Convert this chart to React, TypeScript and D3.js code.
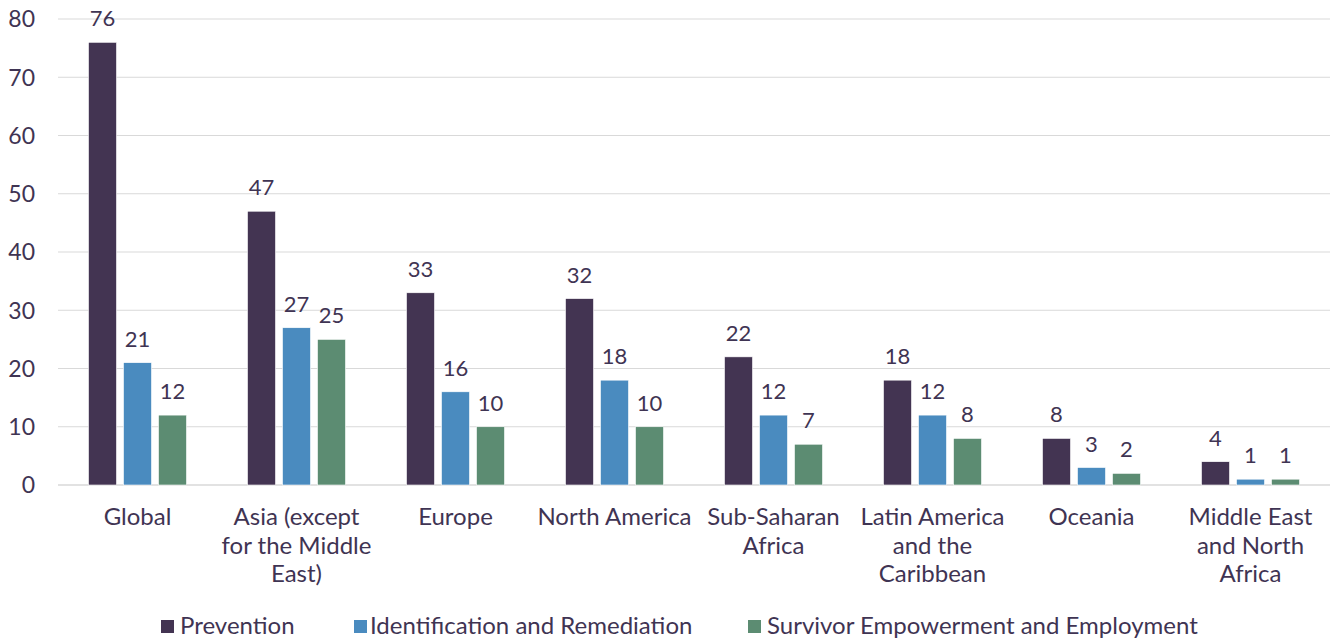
import React from "react";
import * as d3 from "d3";

const categories: string[][] = [
  ["Global"],
  ["Asia (except", "for the Middle", "East)"],
  ["Europe"],
  ["North America"],
  ["Sub-Saharan", "Africa"],
  ["Latin America", "and the", "Caribbean"],
  ["Oceania"],
  ["Middle East", "and North", "Africa"],
];
const seriesNames = ["Prevention", "Identification and Remediation", "Survivor Empowerment and Employment"];
const prevention = [76, 47, 33, 32, 22, 18, 8, 4];
const identification = [21, 27, 16, 18, 12, 12, 3, 1];
const survivor = [12, 25, 10, 10, 7, 8, 2, 1];
const yTicks = [0, 10, 20, 30, 40, 50, 60, 70, 80];
const colors = ["#433452", "#4a8bbf", "#5c8c72"];

const W = 1335, H = 643;
const textColor = "#3f3453";
const font = "Lato, 'Open Sans', sans-serif";

export default function App() {
  const series = [prevention, identification, survivor];
  const x = d3.scaleBand<number>().domain(d3.range(categories.length)).range([58, 1330]).paddingInner(0).paddingOuter(0);
  const y = d3.scaleLinear().domain([0, 80]).range([485, 19]);
  const barW = 28, step = 35;
  return (
    <svg width={W} height={H} style={{ position: "absolute", left: 0, top: 0, background: "#fff" }}>
      {yTicks.map((t) => (
        <g key={t}>
          <line x1={58} x2={1330} y1={y(t)} y2={y(t)} stroke="#d9d9d9" strokeWidth={t === 0 ? 1.5 : 1.2} />
          <text x={35} y={y(t)} dy="0.36em" textAnchor="end" fontSize={23} fill={textColor} fontFamily={font}>{t}</text>
        </g>
      ))}
      {categories.map((c, i) => {
        const cx = x(i)! + x.bandwidth() / 2;
        return (
          <g key={i}>
            {series.map((s, j) => {
              const bx = cx + (j - 1) * step - barW / 2;
              return (
                <g key={j}>
                  <rect x={bx} y={y(s[i])} width={barW} height={y(0) - y(s[i])} fill={colors[j]} stroke="#ffffff" strokeWidth={0.6} />
                  <text x={bx + barW / 2} y={y(s[i]) - 16} textAnchor="middle" fontSize={22} fill={textColor} fontFamily={font}>{s[i]}</text>
                </g>
              );
            })}
            {c.map((line, k) => (
              <text key={k} x={cx} y={525 + k * 28.5} textAnchor="middle" fontSize={24} fill={textColor} fontFamily={font}>{line}</text>
            ))}
          </g>
        );
      })}
      {[[161, 180], [354, 370], [748, 767]].map(([sx, tx], j) => (
        <g key={j}>
          <rect x={sx} y={620} width={13} height={13} fill={colors[j]} />
          <text x={tx} y={634} fontSize={24} fill={textColor} fontFamily={font}>{seriesNames[j]}</text>
        </g>
      ))}
    </svg>
  );
}
